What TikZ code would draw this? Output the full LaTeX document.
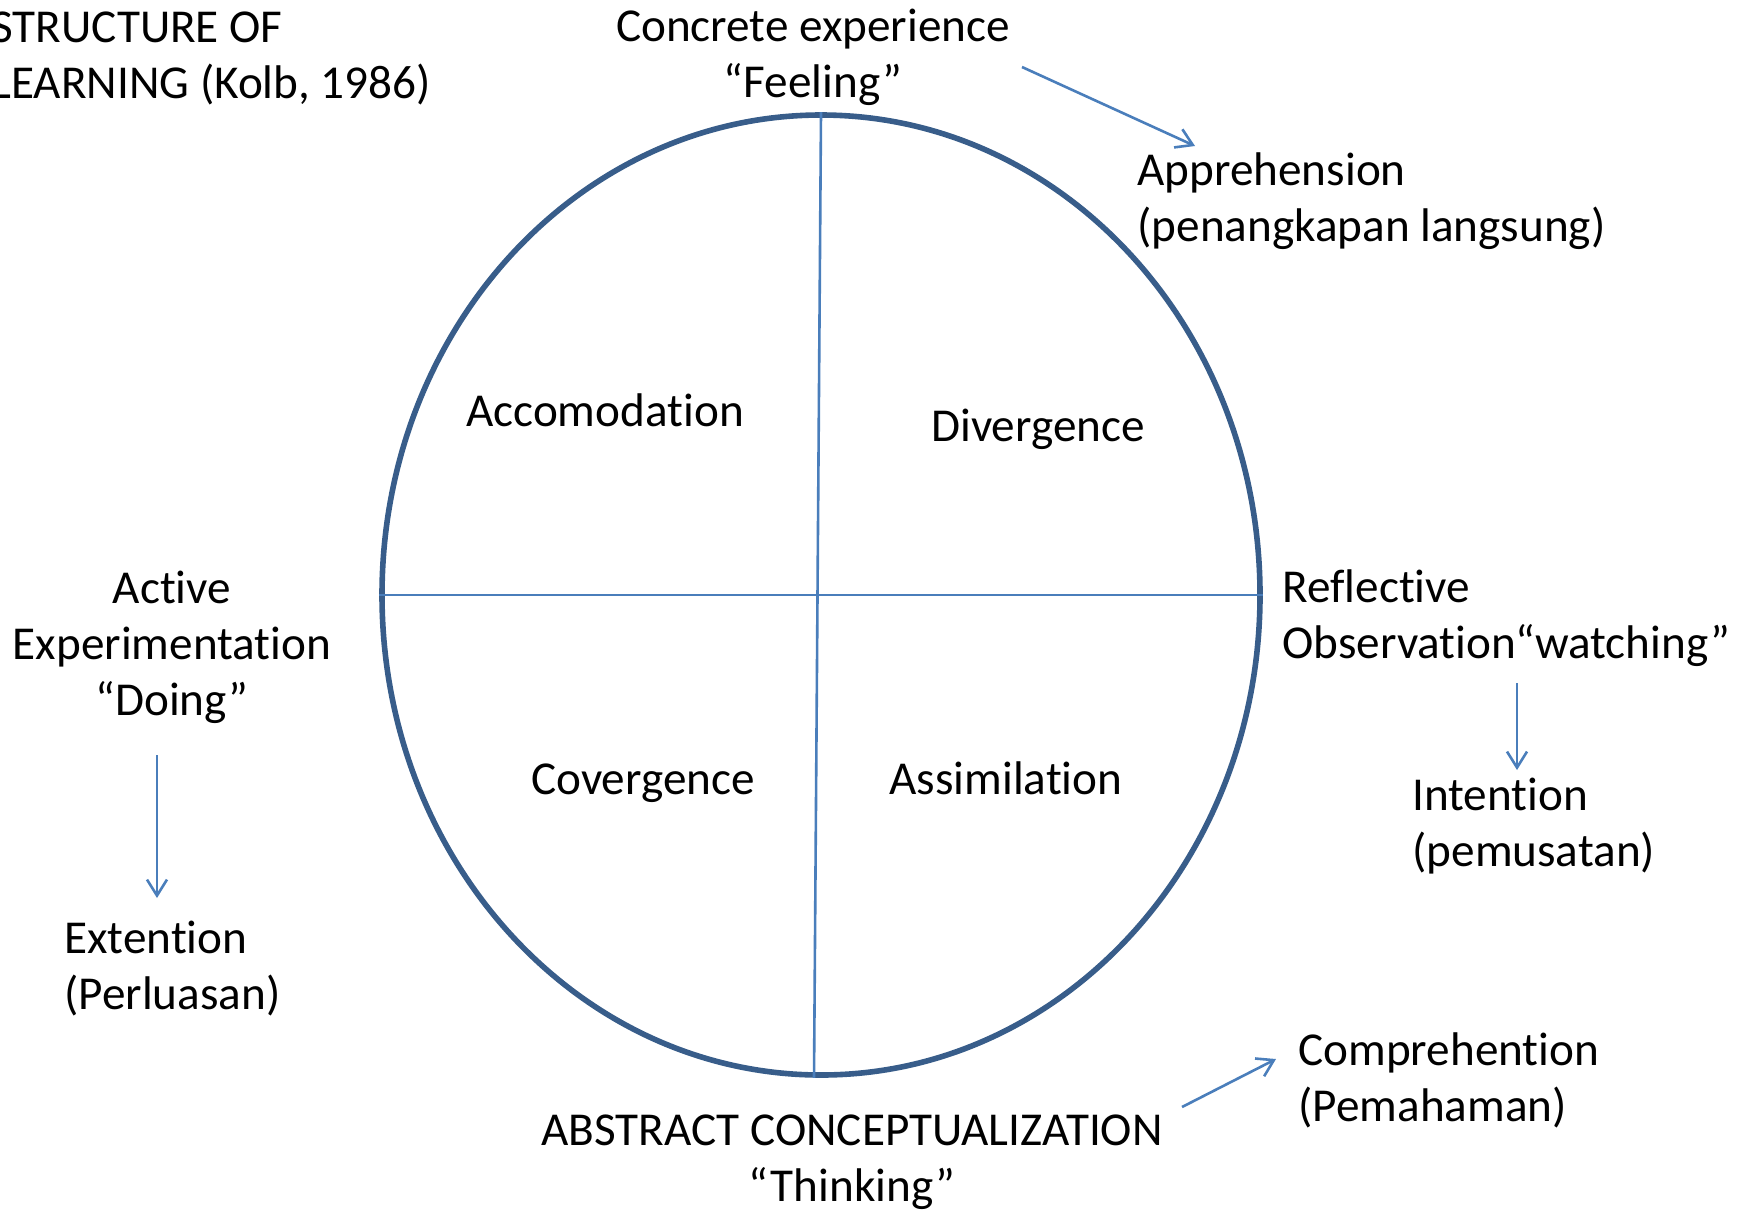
\documentclass[tikz,border=0pt]{standalone}
\usepackage{fontspec}
\setmainfont{Carlito}[Ligatures=NoCommon]
\usetikzlibrary{shapes.geometric,arrows.meta}
\definecolor{ringblue}{RGB}{56,93,138}
\definecolor{lineblue}{RGB}{74,126,187}
\begin{document}
\begin{tikzpicture}[x=0.5pt,y=-0.5pt,
  lbl/.style={inner sep=0, font=\fontsize{23.6}{28}\selectfont},
  divline/.style={draw=lineblue, line width=1.3pt},
  arr/.style={divline, -{Straight Barb[length=8pt,width=10pt]}}]
\useasboundingbox (0,0) rectangle (1748,1211);
\node[draw=ringblue, line width=2.8pt, ellipse, minimum width=439pt, minimum height=480pt, inner sep=0] (cyc) at (821,595) {};
\draw[divline] (cyc.north) -- ([xshift=-3.5pt]cyc.south);
\draw[divline] (cyc.west) -- (cyc.east);

\node[lbl, anchor=base west, align=left] (title) at (-9,98) {STRUCTURE OF\\LEARNING (Kolb, 1986)};
\node[lbl, anchor=base, align=center] (ce) at (813,97) {Concrete experience\\“Feeling”};
\node[lbl, anchor=base west, align=left] (appr) at (1137,241) {Apprehension\\(penangkapan langsung)};
\node[lbl, anchor=base] (acc) at (605,426) {Accomodation};
\node[lbl, anchor=base] (div) at (1038,441) {Divergence};
\node[lbl, anchor=base] (cov) at (643,794) {Covergence};
\node[lbl, anchor=base] (ass) at (1006,794) {Assimilation};
\node[lbl, anchor=base, align=center] (ae) at (172,715) {Active\\Experimentation\\“Doing”};
\node[lbl, anchor=base west, align=left] (ext) at (64,1009) {Extention\\(Perluasan)};
\node[lbl, anchor=base west, align=left] (ro) at (1282,658) {Reflective\\Observation“watching”};
\node[lbl, anchor=base west, align=left] (int) at (1412,866) {Intention\\(pemusatan)};
\node[lbl, anchor=base, align=center] (ac) at (852,1201) {ABSTRACT CONCEPTUALIZATION\\“Thinking”};
\node[lbl, anchor=base west, align=left] (comp) at (1298,1121) {Comprehention\\(Pemahaman)};

\coordinate (a1s) at (1022,67);   \coordinate (a1e) at (1195,146);
\coordinate (a2s) at (157,755);   \coordinate (a2e) at (157,898);
\coordinate (a3s) at (1517,683);  \coordinate (a3e) at (1517,770);
\coordinate (a4s) at (1182,1107); \coordinate (a4e) at (1276,1059);
\draw[arr] (a1s) -- (a1e);
\draw[arr] (a2s) -- (a2e);
\draw[arr] (a3s) -- (a3e);
\draw[arr] (a4s) -- (a4e);
\end{tikzpicture}
\end{document}
